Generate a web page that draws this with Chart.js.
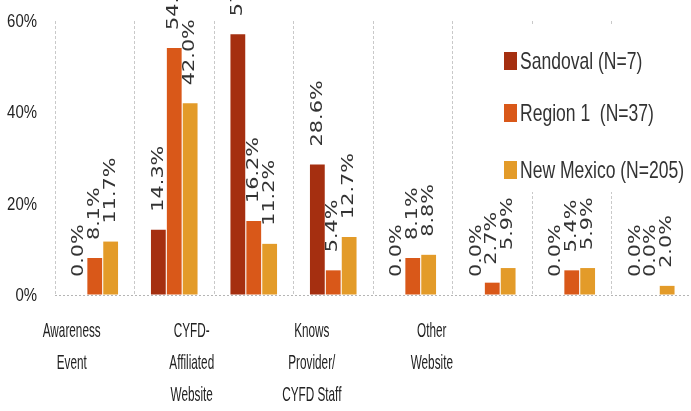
<!DOCTYPE html>
<html>
<head>
<meta charset="utf-8">
<script src="https://cdn.jsdelivr.net/npm/chart.js@4/dist/chart.umd.min.js"></script>
<style>
  html, body { margin: 0; padding: 0; background: #fff; }
  #wrap { width: 691px; height: 411px; position: relative; }
</style>
</head>
<body>
<div id="wrap"><canvas id="myChart"></canvas></div>
<script>
// bar groups (their own names are not shown on the axis)
const categories = ['Source 1', 'Source 2', 'Source 3', 'Source 4', 'Source 5', 'Source 6', 'Source 7', 'Source 8'];
const sandoval = [0.0, 14.3, 57.1, 28.6, 0.0, 0.0, 0.0, 0.0];
const region1 = [8.1, 54.1, 16.2, 5.4, 8.1, 2.7, 5.4, 0.0];
const newMexico = [11.7, 42.0, 11.2, 12.7, 8.8, 5.9, 5.9, 2.0];
const seriesNames = ['Sandoval (N=7)', 'Region 1  (N=37)', 'New Mexico (N=205)'];
const axisLabels = [['Awareness', 'Event'], ['CYFD-', 'Affiliated', 'Website'], ['Knows', 'Provider/', 'CYFD Staff'], ['Other', 'Website']];
const yTicks = [0, 20, 40, 60];

const colors = ['#A52F10', '#D95819', '#E39B29'];
const sans = "'Liberation Sans', Arial, sans-serif";

// rotated value labels above each bar
const valueLabels = {
    id: 'valueLabels',
    afterDatasetsDraw(chart) {
        const ctx = chart.ctx;
        ctx.save();
        ctx.fillStyle = '#333';
        ctx.font = "16px 'DejaVu Sans', sans-serif";
        ctx.textAlign = 'left';
        ctx.textBaseline = 'middle';
        chart.data.datasets.forEach((ds, di) => {
            chart.getDatasetMeta(di).data.forEach((bar, i) => {
                ctx.save();
                ctx.translate(bar.x, bar.y - 18);
                ctx.rotate(-Math.PI / 2);
                ctx.scale(1.3, 1);
                ctx.fillText(ds.data[i].toFixed(1) + '%', 0, 0);
                ctx.restore();
            });
        });
        ctx.restore();
    }
};

// tick labels of the scales, drawn horizontally squeezed like the original
const squeezedTicks = {
    id: 'squeezedTicks',
    afterDraw(chart) {
        const ctx = chart.ctx;
        const xl = chart.scales.xl;
        const y = chart.scales.y;
        ctx.save();
        ctx.fillStyle = '#222';
        ctx.textBaseline = 'middle';
        ctx.font = '21px ' + sans;
        ctx.textAlign = 'center';
        xl.ticks.forEach((t, i) => {
            const px = xl.getPixelForTick(i);
            axisLabels[i].forEach((line, j) => {
                ctx.save();
                ctx.translate(px, xl.top + 36 + j * 32);
                ctx.scale(0.56, 1);
                ctx.fillText(line, 0, 0);
                ctx.restore();
            });
        });
        ctx.font = '18px ' + sans;
        ctx.textAlign = 'right';
        y.ticks.forEach((t, i) => {
            ctx.save();
            ctx.translate(37, y.getPixelForTick(i) + 1);
            ctx.scale(0.83, 1);
            ctx.fillText(t.value + '%', 0, 0);
            ctx.restore();
        });
        ctx.restore();
    }
};

// legend box sitting inside the plot, top right
const insideLegend = {
    id: 'insideLegend',
    afterDatasetsDraw(chart) {
        const ctx = chart.ctx;
        const rows = [61, 113, 170];
        ctx.save();
        ctx.fillStyle = '#fff';
        ctx.fillRect(495, 26, 196, 166);
        ctx.font = '24px ' + sans;
        ctx.textBaseline = 'middle';
        chart.data.datasets.forEach((ds, i) => {
            ctx.fillStyle = ds.backgroundColor;
            ctx.fillRect(504, rows[i] - 9, 13, 18);
            ctx.save();
            ctx.translate(520, rows[i]);
            ctx.scale(0.73, 1);
            ctx.fillStyle = '#333';
            ctx.fillText(ds.label, 0, 1);
            ctx.restore();
        });
        ctx.restore();
    }
};

const data = {
    labels: categories,
    datasets: [sandoval, region1, newMexico].map((vals, i) => ({
        label: seriesNames[i],
        data: vals,
        backgroundColor: colors[i],
        categoryPercentage: 0.6,
        barPercentage: 0.93
    }))
};

const config = {
    type: 'bar',
    data: data,
    options: {
        responsive: true,
        maintainAspectRatio: false,
        animation: false,
        layout: { padding: { top: 21, right: 0, left: 0, bottom: 0 } },
        plugins: { legend: { display: false }, tooltip: { enabled: false } },
        scales: {
            x: {
                ticks: { display: false },
                grid: { color: '#c9c9c9', drawTicks: false, offset: true },
                border: { display: false, dash: [3, 2] },
                afterFit: (s) => { s.height = 0; }
            },
            xl: {
                type: 'linear',
                position: 'bottom',
                offset: false,
                min: 0,
                max: categories.length,
                grid: { display: false, drawTicks: false },
                border: { display: false },
                afterBuildTicks: (axis) => {
                    axis.ticks = axisLabels.map((l, i) => ({ value: 0.21 + i * 1.51 }));
                },
                ticks: {
                    display: false,
                    autoSkip: false,
                    callback: function (value, index) {
                        return axisLabels[index];
                    }
                },
                afterFit: (s) => { s.height = 116; }
            },
            y: {
                min: 0,
                max: 60,
                afterBuildTicks: (axis) => {
                    axis.ticks = yTicks.map(v => ({ value: v }));
                },
                ticks: { display: false },
                grid: {
                    drawTicks: false,
                    color: (c) => (c.tick && c.tick.value === 0 ? '#b5b5b5' : 'rgba(0,0,0,0)')
                },
                border: { display: false, dash: [2, 2] },
                afterFit: (s) => { s.width = 55; }
            }
        }
    },
    plugins: [valueLabels, squeezedTicks, insideLegend]
};

new Chart(document.getElementById('myChart').getContext('2d'), config);
</script>
</body>
</html>
